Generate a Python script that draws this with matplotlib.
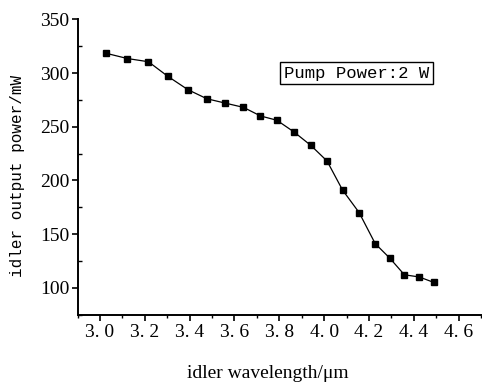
import matplotlib
matplotlib.use("Agg")
import matplotlib.pyplot as plt
from matplotlib.ticker import MultipleLocator, FixedLocator

# Data
wavelength_um = [3.025, 3.122, 3.216, 3.302, 3.392, 3.477, 3.558, 3.640, 3.716, 3.789,
                 3.866, 3.941, 4.013, 4.082, 4.156, 4.228, 4.293, 4.358, 4.424, 4.488]
power_mw = [318.5, 313.5, 310.5, 297.0, 284.5, 276.0, 272.0, 268.0, 260.0, 256.0,
            245.0, 232.5, 218.0, 191.0, 170.0, 141.0, 127.5, 112.0, 110.0, 105.0]

x_ticks = [3.0, 3.2, 3.4, 3.6, 3.8, 4.0, 4.2, 4.4, 4.6]
x_tick_labels = ["3. 0", "3. 2", "3. 4", "3. 6", "3. 8", "4. 0", "4. 2", "4. 4", "4. 6"]
y_ticks = [100, 150, 200, 250, 300, 350]
y_tick_labels = ["100", "150", "200", "250", "300", "350"]

fig = plt.figure(figsize=(4.82, 3.87), dpi=100)
ax = fig.add_axes([0.161, 0.1873, 0.837, 0.7627])

ax.plot(wavelength_um, power_mw, color="black", lw=0.9,
        marker="s", markersize=4.8, markerfacecolor="black", markeredgecolor="black")

ax.set_xlim(2.9, 4.7)
ax.set_ylim(75, 350)

ax.xaxis.set_major_locator(FixedLocator(x_ticks))
ax.set_xticklabels(x_tick_labels, family="Liberation Serif", fontsize=14)
ax.xaxis.set_minor_locator(MultipleLocator(0.1))
ax.yaxis.set_major_locator(FixedLocator(y_ticks))
ax.set_yticklabels(y_tick_labels, family="Liberation Serif", fontsize=14)
ax.yaxis.set_minor_locator(MultipleLocator(25))

ax.tick_params(axis="x", which="major", direction="out", length=4, width=1.2, pad=3)
ax.tick_params(axis="x", which="minor", direction="out", length=2.5, width=1.0)
ax.tick_params(axis="y", which="major", direction="out", length=4, width=1.2, pad=2)
ax.tick_params(axis="y", which="minor", direction="in", length=3, width=1.0)

for s in ["top", "right"]:
    ax.spines[s].set_visible(False)
for s in ["left", "bottom"]:
    ax.spines[s].set_linewidth(1.4)

ax.set_ylabel("idler output power/mW", family="Liberation Mono", fontsize=11.5)
ax.yaxis.set_label_coords(-0.13, 0.47)
fig.text(0.556, 0.035, "idler wavelength/\u03bcm", family="Liberation Serif", fontsize=14,
         ha="center", va="center")

ax.text(0.739, 0.811, "Pump Power:2 W", transform=fig.transFigure,
        family="Liberation Mono", fontsize=12.4, ha="center", va="center",
        bbox=dict(boxstyle="square,pad=0.22", facecolor="white", edgecolor="black", lw=1.0))

fig.savefig("out.png", dpi=100)
